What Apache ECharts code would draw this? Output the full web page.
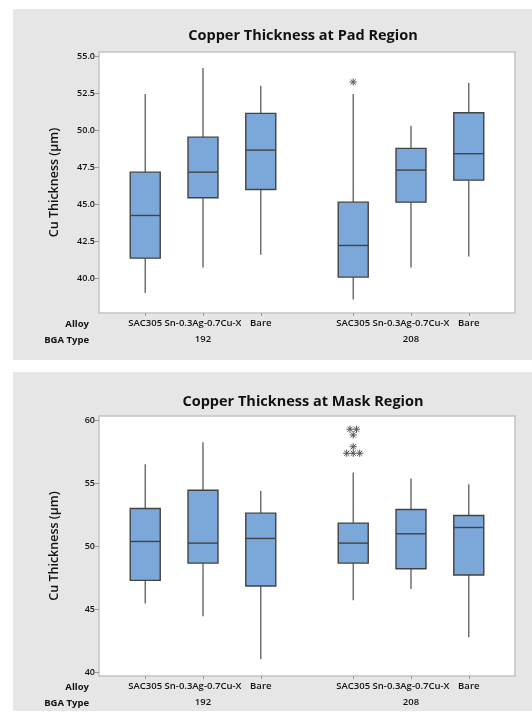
<!DOCTYPE html>
<html>
<head>
<meta charset="utf-8">
<script src="https://cdn.jsdelivr.net/npm/echarts@6/dist/echarts.min.js"></script>
<style>
  html, body { margin: 0; padding: 0; background: #fff; }
  #chart { width: 532px; height: 719px; }
</style>
</head>
<body>
<div id="chart"></div>
<script>
// ---------- data ----------
const alloys = ['SAC305', 'Sn-0.3Ag-0.7Cu-X', 'Bare'];
const bgaTypes = ['192', '208'];

const padTitle = 'Copper Thickness at Pad Region';
const padMin    = [39.01, 40.74, 41.60, 38.58, 40.74, 41.49];
const padQ1     = [41.37, 45.46, 46.02, 40.09, 45.16, 46.65];
const padMedian = [44.26, 47.19, 48.68, 42.23, 47.33, 48.44];
const padQ3     = [47.19, 49.56, 51.17, 45.16, 48.80, 51.21];
const padMax    = [52.47, 54.23, 53.04, 52.47, 50.33, 53.22];
const padOutliers = [[], [], [], [53.29], [], []];
const padTicks = [40.0, 42.5, 45.0, 47.5, 50.0, 52.5, 55.0];

const maskTitle = 'Copper Thickness at Mask Region';
const maskMin    = [45.45, 44.42, 41.01, 45.69, 46.59, 42.75];
const maskQ1     = [47.28, 48.65, 46.83, 48.65, 48.20, 47.70];
const maskMedian = [50.37, 50.24, 50.61, 50.24, 50.98, 51.48];
const maskQ3     = [52.99, 54.44, 52.62, 51.83, 52.91, 52.43];
const maskMax    = [56.51, 58.25, 54.39, 55.85, 55.37, 54.92];
const maskOutliers = [[], [], [], [59.29, 59.29, 58.83, 57.90, 57.38, 57.38, 57.38], [], []];
const maskTicks = [40, 45, 50, 55, 60];

const yAxisTitle = 'Cu Thickness (µm)';
const rowLabels = ['Alloy', 'BGA Type'];

// ---------- layout helpers ----------
const FONT = 'Open Sans';
const groupGap = 3.6;
const positions = [];
const posLabel = {};
bgaTypes.forEach((g, gi) => alloys.forEach((a, ai) => {
  const p = ai + gi * groupGap;
  positions.push(p);
  posLabel[p.toFixed(2)] = a;
}));
const groupCenters = bgaTypes.map((g, gi) => 1 + gi * groupGap);
const groupLabel = {};
groupCenters.forEach((p, gi) => { groupLabel[p.toFixed(2)] = bgaTypes[gi]; });

function boxData(mn, q1, md, q3, mx) {
  return positions.map((p, i) => [p, mn[i], q1[i], md[i], q3[i], mx[i]]);
}
function outlierData(outs) {
  const res = [];
  outs.forEach((vals, i) => {
    const counts = {};
    vals.forEach(v => { counts[v] = (counts[v] || 0) + 1; });
    const seen = {};
    vals.forEach(v => {
      const n = counts[v];
      const k = seen[v] || 0;
      seen[v] = k + 1;
      res.push([positions[i], v, k - (n - 1) / 2]);
    });
  });
  return res;
}

const BOX_FILL = '#7ba7d9';
const BOX_STROKE = '#434343';
const WHISKER = '#5c5c5c';
const LABEL_COLOR = '#111';

function renderBox(params, api) {
  const x = api.value(0);
  const lo = api.coord([x, api.value(1)]);
  const q1 = api.coord([x, api.value(2)]);
  const md = api.coord([x, api.value(3)]);
  const q3 = api.coord([x, api.value(4)]);
  const hi = api.coord([x, api.value(5)]);
  const cx = lo[0];
  const hw = 15;
  return {
    type: 'group',
    children: [
      { type: 'line', shape: { x1: cx, y1: hi[1], x2: cx, y2: q3[1] }, style: { stroke: WHISKER, lineWidth: 1.3 } },
      { type: 'line', shape: { x1: cx, y1: q1[1], x2: cx, y2: lo[1] }, style: { stroke: WHISKER, lineWidth: 1.3 } },
      { type: 'rect', shape: { x: cx - hw, y: q3[1], width: 2 * hw, height: q1[1] - q3[1] },
        style: { fill: BOX_FILL, stroke: BOX_STROKE, lineWidth: 1.4 } },
      { type: 'line', shape: { x1: cx - hw, y1: md[1], x2: cx + hw, y2: md[1] }, style: { stroke: BOX_STROKE, lineWidth: 1.4 } }
    ]
  };
}

function renderStar(params, api) {
  const c = api.coord([api.value(0), api.value(1)]);
  const cx = c[0] + api.value(2) * 6.5;
  const cy = c[1];
  const r = 3.6, d = r * 0.72;
  const st = { stroke: '#555', lineWidth: 1 };
  return {
    type: 'group',
    children: [
      { type: 'line', shape: { x1: cx, y1: cy - r, x2: cx, y2: cy + r }, style: st },
      { type: 'line', shape: { x1: cx - r, y1: cy, x2: cx + r, y2: cy }, style: st },
      { type: 'line', shape: { x1: cx - d, y1: cy - d, x2: cx + d, y2: cy + d }, style: st },
      { type: 'line', shape: { x1: cx - d, y1: cy + d, x2: cx + d, y2: cy - d }, style: st }
    ]
  };
}

const grids = [
  { left: 99, top: 52, width: 416, height: 261 },
  { left: 99, top: 416, width: 416, height: 260 }
];
const yRanges = [[37.66, 55.32], [39.68, 60.34]];
const yTicks = [padTicks, maskTicks];
const yFmt = [v => v.toFixed(1), v => String(v)];

const option = {
  backgroundColor: '#ffffff',
  animation: false,
  grid: grids.map(g => Object.assign({
    show: true, backgroundColor: '#ffffff', borderColor: '#c4c4c4', borderWidth: 1.5
  }, g)),
  xAxis: [0, 1].flatMap(gi => [
    {
      type: 'value', gridIndex: gi, position: 'bottom', min: -0.8, max: 6.4,
      axisLine: { show: false, onZero: false },
      splitLine: { show: false },
      axisTick: { show: true, customValues: positions, length: 3, lineStyle: { color: '#9a9a9a' } },
      axisLabel: {
        customValues: positions, margin: 5,
        formatter: v => posLabel[Number(v).toFixed(2)] || '',
        fontFamily: FONT, fontSize: 9.5, fontWeight: 600, color: LABEL_COLOR
      }
    },
    {
      type: 'value', gridIndex: gi, position: 'bottom', min: -0.8, max: 6.4, offset: 16.5,
      axisLine: { show: false, onZero: false },
      splitLine: { show: false },
      axisTick: { show: false },
      axisLabel: {
        customValues: groupCenters, margin: 5,
        formatter: v => groupLabel[Number(v).toFixed(2)] || '',
        fontFamily: FONT, fontSize: 9.5, fontWeight: 600, color: LABEL_COLOR
      }
    }
  ]),
  yAxis: [0, 1].map(gi => ({
    type: 'value', gridIndex: gi, position: 'left', min: yRanges[gi][0], max: yRanges[gi][1],
    name: yAxisTitle, nameLocation: 'middle', nameGap: 38,
    nameTextStyle: { fontFamily: FONT, fontSize: 12.5, fontWeight: 600, color: '#111' },
    axisLine: { show: false, onZero: false },
    splitLine: { show: false },
    axisTick: { show: true, customValues: yTicks[gi], length: 4, lineStyle: { color: '#9a9a9a' } },
    axisLabel: {
      customValues: yTicks[gi], margin: 4,
      formatter: yFmt[gi],
      fontFamily: FONT, fontSize: 9, fontWeight: 600, color: LABEL_COLOR
    }
  })),
  graphic: [
    { type: 'rect', z: -100, silent: true, shape: { x: 13, y: 9, width: 519, height: 351 }, style: { fill: '#e6e6e6' } },
    { type: 'rect', z: -100, silent: true, shape: { x: 13, y: 372, width: 519, height: 339 }, style: { fill: '#e6e6e6' } },
    { type: 'text', z: 100, x: 303, y: 36, style: { text: padTitle, x: 0, y: 0, align: 'center', verticalAlign: 'middle', fontFamily: FONT, fontSize: 14.5, fontWeight: 'bold', fill: '#111' } },
    { type: 'text', z: 100, x: 303, y: 402, style: { text: maskTitle, x: 0, y: 0, align: 'center', verticalAlign: 'middle', fontFamily: FONT, fontSize: 14.5, fontWeight: 'bold', fill: '#111' } },
    { type: 'text', z: 100, x: 89, y: 324, style: { text: rowLabels[0], align: 'right', verticalAlign: 'middle', fontFamily: FONT, fontSize: 9.5, fontWeight: 'bold', fill: LABEL_COLOR } },
    { type: 'text', z: 100, x: 89, y: 340, style: { text: rowLabels[1], align: 'right', verticalAlign: 'middle', fontFamily: FONT, fontSize: 9.5, fontWeight: 'bold', fill: LABEL_COLOR } },
    { type: 'text', z: 100, x: 89, y: 687, style: { text: rowLabels[0], align: 'right', verticalAlign: 'middle', fontFamily: FONT, fontSize: 9.5, fontWeight: 'bold', fill: LABEL_COLOR } },
    { type: 'text', z: 100, x: 89, y: 703, style: { text: rowLabels[1], align: 'right', verticalAlign: 'middle', fontFamily: FONT, fontSize: 9.5, fontWeight: 'bold', fill: LABEL_COLOR } }
  ],
  series: [
    { type: 'custom', name: 'Pad', xAxisIndex: 0, yAxisIndex: 0, renderItem: renderBox,
      encode: { x: 0, y: [1, 2, 3, 4, 5] }, data: boxData(padMin, padQ1, padMedian, padQ3, padMax) },
    { type: 'custom', name: 'Pad outliers', xAxisIndex: 0, yAxisIndex: 0, renderItem: renderStar,
      encode: { x: 0, y: 1 }, data: outlierData(padOutliers) },
    { type: 'custom', name: 'Mask', xAxisIndex: 2, yAxisIndex: 1, renderItem: renderBox,
      encode: { x: 0, y: [1, 2, 3, 4, 5] }, data: boxData(maskMin, maskQ1, maskMedian, maskQ3, maskMax) },
    { type: 'custom', name: 'Mask outliers', xAxisIndex: 2, yAxisIndex: 1, renderItem: renderStar,
      encode: { x: 0, y: 1 }, data: outlierData(maskOutliers) }
  ]
};

const chart = echarts.init(document.getElementById('chart'), null, { renderer: 'canvas' });
chart.setOption(option);
</script>
</body>
</html>
